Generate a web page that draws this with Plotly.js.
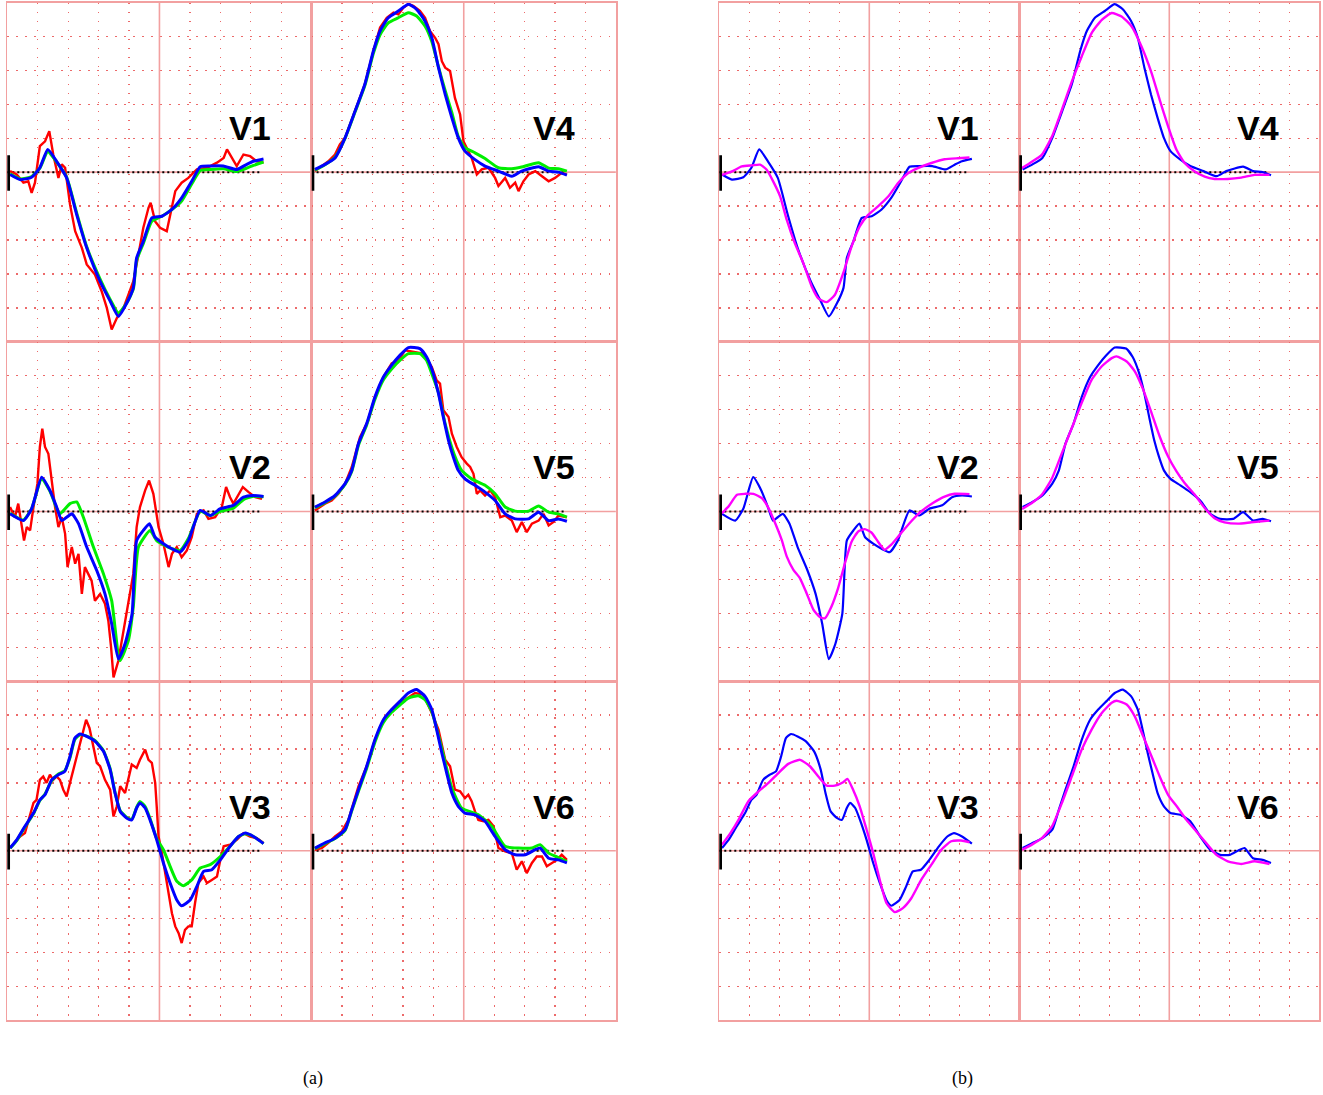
<!DOCTYPE html>
<html><head><meta charset="utf-8">
<script src="https://cdn.plot.ly/plotly-3.0.1.min.js"></script>
<style>html,body{margin:0;padding:0;background:#fff}#chart{width:1323px;height:1095px}</style>
</head><body><div id="chart"></div>
<script>
// ---- data: time in small-grid units, amplitude in small-grid units ----
const leadNames = ['V1','V2','V3','V4','V5','V6'];

// V1
const v1BlueT = [0.09,0.42,0.8,1.07,1.33,1.62,1.95,2.28,2.61,3.05,3.38,3.65,3.93,4.14,4.25,4.47,4.75,5.08,5.41,5.73,6.06,6.34,6.67,7.1,7.54,7.87,8.09,8.42];
const v1BlueV = [-0.07,-0.22,-0.15,0.13,0.67,0.32,-0.17,-1.25,-2.23,-3.22,-3.8,-4.25,-3.85,-3.41,-2.53,-2.04,-1.35,-1.3,-1.1,-0.76,-0.27,0.16,0.18,0.18,0.08,0.23,0.32,0.39];
const v1GreenV = [-0.05,-0.2,-0.13,0.12,0.6,0.3,-0.15,-1.2,-2.2,-3.15,-3.75,-4.15,-3.85,-3.45,-2.6,-2.1,-1.45,-1.3,-1.1,-0.85,-0.35,0.05,0.08,0.1,0.02,0.12,0.2,0.3];
const v1RedT = [0.09,0.31,0.53,0.69,0.8,0.91,1.07,1.24,1.38,1.51,1.68,1.79,1.9,2.06,2.23,2.45,2.61,2.88,3.1,3.27,3.43,3.6,3.82,3.98,4.14,4.31,4.47,4.64,4.71,4.86,5.02,5.24,5.35,5.52,5.73,5.95,6.23,6.56,6.89,7.11,7.22,7.38,7.54,7.76,7.98,8.2,8.42];
const v1RedV = [0.03,-0.07,-0.31,-0.27,-0.61,-0.31,0.77,0.91,1.21,0.52,-0.17,0.23,0.13,-0.95,-1.74,-2.23,-2.72,-3.02,-3.51,-4.0,-4.64,-4.3,-4.0,-3.61,-3.22,-2.43,-1.64,-1.05,-0.9,-1.45,-1.64,-1.74,-1.25,-0.56,-0.31,-0.17,0.08,0.13,0.28,0.42,0.67,0.42,0.18,0.52,0.47,0.32,0.28];
const v1MagT = [0.09,0.42,0.75,1.09,1.36,1.58,1.8,2.03,2.25,2.52,2.8,3.08,3.3,3.58,3.85,4.13,4.41,4.68,4.96,5.29,5.63,5.96,6.29,6.62,7.07,7.51,7.95,8.34];
const v1MagV = [-0.08,0.02,0.17,0.2,0.22,0.07,-0.28,-0.72,-1.41,-2.1,-2.68,-3.37,-3.72,-3.83,-3.62,-2.98,-2.19,-1.6,-1.26,-1.01,-0.72,-0.32,-0.03,0.12,0.27,0.38,0.41,0.43];

// V2
const v2BlueT = [0.09,0.53,0.8,1.13,1.4,1.62,1.79,1.95,2.12,2.34,2.61,2.94,3.21,3.43,3.65,3.87,4.1,4.25,4.47,4.67,4.86,5.13,5.41,5.68,5.95,6.34,6.67,7.0,7.43,7.76,8.09,8.42];
const v2BlueV = [-0.07,-0.27,0.08,1.01,0.62,0.13,-0.27,-0.17,-0.07,-0.36,-1.05,-1.74,-2.43,-3.31,-4.35,-3.9,-3.02,-0.86,-0.56,-0.36,-0.76,-0.95,-1.1,-1.2,-0.86,0.03,-0.12,0.08,0.18,0.42,0.47,0.44];
const v2GreenT = [0.09,0.53,0.8,1.13,1.4,1.62,1.73,2.06,2.28,2.5,2.83,3.16,3.43,3.7,3.98,4.14,4.31,4.69,4.91,5.13,5.41,5.68,5.95,6.34,6.67,7.0,7.43,7.76,8.09,8.42];
const v2GreenV = [-0.05,-0.25,0.08,0.97,0.6,0.1,-0.07,0.23,0.28,-0.17,-1.05,-1.84,-2.63,-4.4,-3.8,-2.82,-1.05,-0.56,-0.86,-0.98,-1.1,-1.15,-0.8,0.0,-0.12,0.0,0.1,0.35,0.45,0.43];
const v2RedT = [0.09,0.25,0.36,0.47,0.55,0.64,0.75,0.86,0.99,1.07,1.15,1.24,1.35,1.46,1.57,1.68,1.79,1.9,1.98,2.12,2.23,2.34,2.45,2.55,2.66,2.77,2.88,3.05,3.21,3.32,3.41,3.49,3.65,3.82,3.98,4.14,4.25,4.36,4.53,4.66,4.8,4.97,5.13,5.3,5.41,5.57,5.73,5.9,6.06,6.23,6.45,6.61,6.83,7.05,7.19,7.32,7.43,7.6,7.74,7.93,8.15,8.37];
const v2RedV = [0.13,-0.17,0.23,-0.46,-0.86,-0.46,-0.56,0.13,0.82,1.9,2.44,1.9,1.7,0.91,0.13,-0.46,-0.17,-0.66,-1.64,-1.05,-1.54,-1.25,-2.43,-1.64,-1.84,-2.04,-2.63,-2.43,-2.72,-3.22,-4.0,-4.89,-4.4,-3.51,-2.72,-1.84,-0.46,0.13,0.62,0.91,0.52,-0.46,-0.95,-1.64,-1.25,-1.05,-1.35,-1.15,-0.76,-0.07,0.03,-0.22,-0.17,0.13,0.72,0.42,0.23,0.52,0.72,0.57,0.42,0.37];
const v2MagT = [0.09,0.31,0.59,0.86,1.14,1.42,1.64,1.86,2.08,2.25,2.47,2.69,2.91,3.14,3.36,3.52,3.74,3.96,4.19,4.41,4.63,4.85,5.07,5.29,5.51,5.73,6.01,6.4,6.73,7.12,7.51,7.84,8.34];
const v2MagV = [-0.05,0.15,0.49,0.52,0.52,0.39,0.1,-0.34,-0.84,-1.33,-1.72,-1.97,-2.41,-2.9,-3.12,-3.15,-2.8,-2.26,-1.52,-0.89,-0.59,-0.52,-0.62,-0.89,-1.13,-0.98,-0.69,-0.29,0,0.25,0.44,0.52,0.51];

// V3
const v3BlueT = [0.09,0.31,0.58,0.86,1.07,1.24,1.46,1.68,1.89,2.06,2.22,2.39,2.61,2.88,3.16,3.38,3.54,3.71,3.93,4.09,4.25,4.36,4.53,4.69,4.91,5.13,5.35,5.57,5.73,6.01,6.23,6.45,6.72,7.0,7.32,7.6,7.82,8.09,8.42];
const v3BlueV = [0.08,0.32,0.72,1.11,1.5,1.65,2.09,2.24,2.34,2.78,3.32,3.44,3.37,3.23,2.93,2.39,1.7,1.16,0.96,0.91,1.26,1.41,1.26,0.91,0.32,-0.36,-0.95,-1.45,-1.62,-1.45,-1.05,-0.61,-0.56,-0.27,0.13,0.42,0.52,0.42,0.21];
const v3GreenT = [0.09,0.31,0.58,0.86,1.07,1.24,1.46,1.68,1.89,2.06,2.22,2.39,2.61,2.88,3.16,3.38,3.54,3.71,3.93,4.09,4.25,4.36,4.53,4.69,4.91,5.13,5.35,5.57,5.79,6.06,6.34,6.67,7.0,7.32,7.6,7.82,8.09,8.42];
const v3GreenV = [0.07,0.3,0.7,1.09,1.48,1.67,2.07,2.26,2.36,2.74,3.28,3.42,3.38,3.25,2.95,2.42,1.72,1.18,0.98,0.93,1.28,1.45,1.3,0.95,0.36,0.03,-0.46,-0.9,-1.03,-0.86,-0.51,-0.41,-0.17,0.13,0.42,0.5,0.42,0.21];
const v3RedT = [0.09,0.25,0.42,0.58,0.75,0.86,0.96,1.07,1.18,1.29,1.4,1.51,1.62,1.73,1.84,1.95,2.06,2.23,2.39,2.5,2.59,2.7,2.81,2.94,3.05,3.21,3.38,3.49,3.6,3.71,3.87,3.98,4.09,4.25,4.36,4.53,4.64,4.75,4.86,4.91,4.97,5.08,5.19,5.3,5.41,5.52,5.63,5.73,5.84,5.95,6.06,6.17,6.28,6.45,6.56,6.72,6.89,7.0,7.11,7.32,7.54,7.76,7.98,8.2,8.42];
const v3RedV = [0.08,0.23,0.42,0.52,1.11,1.41,1.5,2.09,2.19,2.0,2.24,2.09,2.19,2.09,1.8,1.6,2.0,2.59,3.23,3.57,3.86,3.62,3.18,2.59,2.49,2.09,1.8,1.01,1.31,1.9,1.7,2.09,2.54,2.44,2.68,2.98,2.68,2.59,2.0,1.31,0.42,-0.07,-0.66,-1.35,-1.84,-2.23,-2.43,-2.72,-2.33,-2.23,-2.23,-1.54,-0.95,-0.76,-0.95,-0.86,-0.76,-0.27,0.13,0.18,0.32,0.52,0.42,0.37,0.23];
const v3MagT = [0.09,0.37,0.64,0.97,1.31,1.64,1.97,2.3,2.69,3.02,3.3,3.58,3.85,4.13,4.27,4.46,4.68,4.91,5.13,5.35,5.57,5.85,6.12,6.4,6.73,7.07,7.4,7.73,8.06,8.34];
const v3MagV = [0.18,0.52,0.91,1.46,1.75,2.0,2.29,2.56,2.68,2.49,2.19,1.92,1.92,2.02,2.12,1.8,1.31,0.62,-0.07,-0.86,-1.54,-1.81,-1.69,-1.4,-0.86,-0.41,0.03,0.28,0.3,0.25];

// V4
const v4BlueT = [0.11,0.44,0.77,1.1,1.43,1.75,2.03,2.25,2.52,2.85,3.18,3.45,3.73,3.95,4.17,4.39,4.61,4.82,5.04,5.37,5.7,6.14,6.58,6.9,7.46,7.79,8.11,8.39];
const v4BlueV = [0.08,0.23,0.42,1.01,1.8,2.59,3.57,4.16,4.55,4.75,4.95,4.8,4.45,3.96,3.08,2.29,1.6,1.01,0.62,0.37,0.18,0.03,-0.12,0.03,0.16,0.03,0,-0.09];
const v4GreenV = [0.06,0.22,0.44,1.0,1.78,2.55,3.5,4.05,4.4,4.55,4.7,4.6,4.3,3.85,3.1,2.4,1.75,1.05,0.72,0.57,0.4,0.13,0.1,0.15,0.28,0.12,0.1,0.03];
const v4RedT = [0.11,0.33,0.55,0.77,0.93,1.1,1.43,1.75,2.03,2.25,2.47,2.69,2.85,3.02,3.18,3.34,3.56,3.73,3.89,4.06,4.17,4.28,4.39,4.55,4.71,4.88,4.99,5.15,5.26,5.43,5.59,5.81,6.03,6.14,6.36,6.52,6.69,6.8,6.96,7.13,7.35,7.57,7.79,8.0,8.22,8.39];
const v4RedV = [0.03,0.18,0.32,0.52,0.82,1.01,1.8,2.59,3.57,4.26,4.55,4.7,4.65,4.85,4.95,4.9,4.75,4.55,4.16,3.96,3.77,3.27,3.08,2.98,2.19,1.7,0.91,0.62,0.42,-0.07,0.08,0.13,-0.17,-0.41,-0.17,-0.46,-0.31,-0.56,-0.27,-0.07,0.03,-0.12,-0.27,-0.17,-0.02,-0.07];
const v4MagT = [0.09,0.42,0.75,1.09,1.42,1.75,2.08,2.41,2.75,3.08,3.41,3.74,4.07,4.41,4.68,4.96,5.24,5.51,5.85,6.18,6.51,6.95,7.4,7.84,8.34];
const v4MagV = [0.12,0.31,0.51,1.05,1.84,2.67,3.41,4.1,4.49,4.69,4.59,4.3,3.71,2.92,2.13,1.35,0.66,0.27,0.02,-0.13,-0.2,-0.2,-0.16,-0.08,-0.08];

// V5
const v5BlueT = [0.11,0.44,0.77,1.1,1.32,1.54,1.81,2.08,2.36,2.63,2.9,3.18,3.56,3.78,4.0,4.17,4.33,4.5,4.66,4.82,5.04,5.37,5.7,6.03,6.36,6.69,7.13,7.46,7.79,8.11,8.39];
const v5BlueV = [0.13,0.28,0.47,0.82,1.21,2.0,2.59,3.37,3.96,4.31,4.6,4.83,4.8,4.55,4.06,3.47,2.78,2.09,1.6,1.21,0.96,0.77,0.57,0.32,-0.07,-0.22,-0.22,-0.02,-0.27,-0.22,-0.29];
const v5GreenT = [0.11,0.44,0.77,1.1,1.32,1.54,1.81,2.08,2.36,2.63,2.9,3.18,3.56,3.78,3.95,4.17,4.39,4.69,4.93,5.26,5.7,6.03,6.36,6.69,7.13,7.46,7.79,8.11,8.39];
const v5GreenV = [0.11,0.26,0.45,0.8,1.18,1.95,2.55,3.3,3.88,4.2,4.45,4.65,4.65,4.45,4.06,3.5,2.58,1.67,1.21,0.96,0.77,0.52,0.13,0.01,0.01,0.16,-0.02,-0.07,-0.17];
const v5RedT = [0.11,0.44,0.66,0.88,1.1,1.32,1.59,1.86,2.08,2.36,2.63,2.85,3.07,3.4,3.67,3.95,4.11,4.22,4.33,4.5,4.61,4.77,4.93,5.1,5.21,5.32,5.43,5.54,5.7,5.87,6.03,6.2,6.36,6.58,6.74,6.91,7.07,7.24,7.46,7.62,7.79,7.95,8.11,8.39];
const v5RedV = [0.03,0.23,0.32,0.52,0.82,1.31,2.19,2.68,3.37,3.96,4.36,4.45,4.75,4.7,4.65,4.26,3.86,3.77,2.98,2.78,2.29,1.9,1.6,1.41,1.31,1.11,0.52,0.62,0.47,0.62,0.42,-0.17,-0.12,-0.27,-0.61,-0.31,-0.61,-0.36,-0.27,-0.07,-0.41,-0.31,-0.12,-0.17];
const v5MagT = [0.09,0.42,0.75,1.09,1.42,1.75,2.08,2.41,2.75,3.08,3.24,3.58,3.85,4.13,4.41,4.68,4.96,5.24,5.51,5.85,6.18,6.51,6.84,7.29,7.73,8.34];
const v5MagV = [0.07,0.25,0.49,0.98,1.72,2.46,3.2,3.88,4.28,4.52,4.57,4.42,4.13,3.59,2.9,2.21,1.62,1.18,0.84,0.49,0.1,-0.2,-0.32,-0.36,-0.32,-0.27];

// V6
const v6BlueT = [0.11,0.44,0.77,1.1,1.32,1.54,1.81,2.08,2.36,2.63,2.91,3.18,3.45,3.73,3.95,4.11,4.28,4.44,4.61,4.82,5.04,5.37,5.7,6.03,6.36,6.69,7.02,7.35,7.51,7.79,8.11,8.39];
const v6BlueV = [0.08,0.23,0.37,0.62,1.21,1.8,2.49,3.27,3.86,4.16,4.41,4.65,4.75,4.55,4.16,3.57,2.88,2.29,1.7,1.31,1.11,1.06,0.87,0.42,0.03,-0.12,-0.12,0.03,0.08,-0.22,-0.27,-0.36];
const v6GreenT = [0.11,0.44,0.77,1.1,1.32,1.54,1.81,2.08,2.36,2.63,2.91,3.18,3.51,3.73,3.95,4.17,4.39,4.61,4.93,5.48,5.92,6.36,6.8,7.24,7.51,7.79,8.11,8.39];
const v6GreenV = [0.06,0.21,0.36,0.6,1.18,1.75,2.43,3.2,3.78,4.08,4.3,4.5,4.57,4.45,4.1,3.4,2.6,1.85,1.26,1.06,0.72,0.13,0.08,0.08,0.18,-0.07,-0.2,-0.32];
const v6RedT = [0.11,0.33,0.55,0.77,0.99,1.21,1.54,1.81,2.08,2.36,2.63,2.85,3.07,3.4,3.67,3.95,4.17,4.39,4.55,4.71,4.88,5.04,5.15,5.26,5.37,5.48,5.65,5.81,5.98,6.14,6.36,6.58,6.74,6.91,7.07,7.24,7.4,7.57,7.73,7.89,8.06,8.22,8.39];
const v6RedV = [0.03,0.08,0.23,0.42,0.57,0.91,1.9,2.49,3.27,3.86,4.16,4.36,4.45,4.65,4.6,4.06,3.57,2.68,2.49,1.8,1.75,1.55,1.65,1.46,1.16,0.91,0.87,0.91,0.72,0.08,-0.02,-0.07,-0.56,-0.31,-0.66,-0.36,-0.17,-0.17,-0.46,-0.36,-0.27,-0.12,-0.27];
const v6MagT = [0.09,0.42,0.75,1.09,1.42,1.75,2.08,2.41,2.75,3.08,3.24,3.58,3.85,4.13,4.41,4.68,4.96,5.29,5.57,5.9,6.23,6.57,6.95,7.4,7.84,8.34];
const v6MagV = [0.03,0.18,0.37,0.72,1.41,2.19,2.98,3.57,4.06,4.36,4.42,4.31,3.96,3.37,2.78,2.19,1.65,1.26,0.91,0.57,0.23,-0.12,-0.31,-0.39,-0.31,-0.39];

const panelCaptions = ['(a)', '(b)'];

// ---- assemble ----
const leadData = {
  V1:{red:[v1RedT,v1RedV], green:[v1BlueT,v1GreenV], blue:[v1BlueT,v1BlueV], mag:[v1MagT,v1MagV]},
  V2:{red:[v2RedT,v2RedV], green:[v2GreenT,v2GreenV], blue:[v2BlueT,v2BlueV], mag:[v2MagT,v2MagV]},
  V3:{red:[v3RedT,v3RedV], green:[v3GreenT,v3GreenV], blue:[v3BlueT,v3BlueV], mag:[v3MagT,v3MagV]},
  V4:{red:[v4RedT,v4RedV], green:[v4BlueT,v4GreenV], blue:[v4BlueT,v4BlueV], mag:[v4MagT,v4MagV]},
  V5:{red:[v5RedT,v5RedV], green:[v5GreenT,v5GreenV], blue:[v5BlueT,v5BlueV], mag:[v5MagT,v5MagV]},
  V6:{red:[v6RedT,v6RedV], green:[v6GreenT,v6GreenV], blue:[v6BlueT,v6BlueV], mag:[v6MagT,v6MagV]}
};

const W = 1323, H = 1095;
const MAJOR = '#f2a0a0', MINOR = '#ec6a6a';
const panels = [
  {cols:[[7.3,311.6],[311.6,615.9]], series:[['red','#ff0000',2.4,'linear'],['green','#00ee00',3,'spline'],['blue','#0000ff',3,'spline']], caption:[313,1078]},
  {cols:[[719.3,1019.3],[1019.3,1319.3]], series:[['blue','#0000ff',2.2,'spline'],['mag','#ff00ff',2.4,'spline']], caption:[962,1078]}
];
const rowsPx = [[2.5,341.8],[341.8,681.1],[681.1,1020.4]];

const layout = {width:W, height:H, margin:{l:0,r:0,t:0,b:0}, paper_bgcolor:'#fff', plot_bgcolor:'#fff',
  showlegend:false, shapes:[], annotations:[], hovermode:false};
const traces = [];

function ax(range, domain, anchor){
  return {range, domain, anchor, showticklabels:false, ticks:'', zeroline:false, showgrid:false,
    tick0:0, dtick:5, showline:true, mirror:true,
    linecolor:MAJOR, linewidth:1.6, fixedrange:true,
    minor:{tick0:0, dtick:1, showgrid:true, gridcolor:MINOR, gridwidth:1.3, griddash:'1.5px,7.5px', ticks:''}};
}

let n = 0;
panels.forEach((p, pi) => {
  leadNames.forEach((name, li) => {
    n += 1;
    const col = li < 3 ? 0 : 1, row = li % 3;
    const xs = n === 1 ? '' : String(n);
    const cx = p.cols[col], ry = rowsPx[row];
    layout['xaxis'+xs] = ax([0,10], [cx[0]/W, cx[1]/W], 'y'+xs);
    layout['yaxis'+xs] = ax([-5,5], [1-ry[1]/H, 1-ry[0]/H], 'x'+xs);
    // major (large-square) grid lines inside each lead cell
    layout.shapes.push({type:'line', xref:'x'+xs, yref:'y'+xs, x0:5, x1:5, y0:-5, y1:5,
      line:{color:MAJOR, width:1.6}, layer:'between'});
    layout.shapes.push({type:'line', xref:'x'+xs, yref:'y'+xs, x0:0, x1:10, y0:0, y1:0,
      line:{color:MAJOR, width:1.6}, layer:'between'});
    p.series.forEach(s => {
      const d = leadData[name][s[0]];
      traces.push({type:'scatter', mode:'lines', x:d[0], y:d[1], xaxis:'x'+xs, yaxis:'y'+xs,
        line:{color:s[1], width:s[2], shape:s[3], smoothing:0.5}, hoverinfo:'skip'});
    });
    // isoelectric reference and start marker
    layout.shapes.push({type:'line', xref:'x'+xs, yref:'y'+xs, x0:0, x1:8.3, y0:0, y1:0,
      line:{color:'#000', width:2, dash:'2px,3px'}, layer:'between'});
    layout.shapes.push({type:'line', xref:'x'+xs, yref:'y'+xs, x0:0.04, x1:0.04, y0:-0.55, y1:0.5,
      line:{color:'#000', width:3}, layer:'above'});
    layout.annotations.push({xref:'x'+xs, yref:'y'+xs, x:7.97, y:1.3, text:'<b>'+name+'</b>',
      showarrow:false, xanchor:'center', yanchor:'middle',
      font:{family:'Liberation Sans, Arial, sans-serif', size:34, color:'#000'}});
  });
  layout.annotations.push({xref:'paper', yref:'paper', x:p.caption[0]/W, y:1-p.caption[1]/H,
    text:panelCaptions[pi], showarrow:false, xanchor:'center', yanchor:'middle',
    font:{family:'Liberation Serif, Times New Roman, serif', size:18, color:'#000'}});
});

Plotly.newPlot('chart', traces, layout, {displayModeBar:false, staticPlot:true});
</script>
</body></html>
